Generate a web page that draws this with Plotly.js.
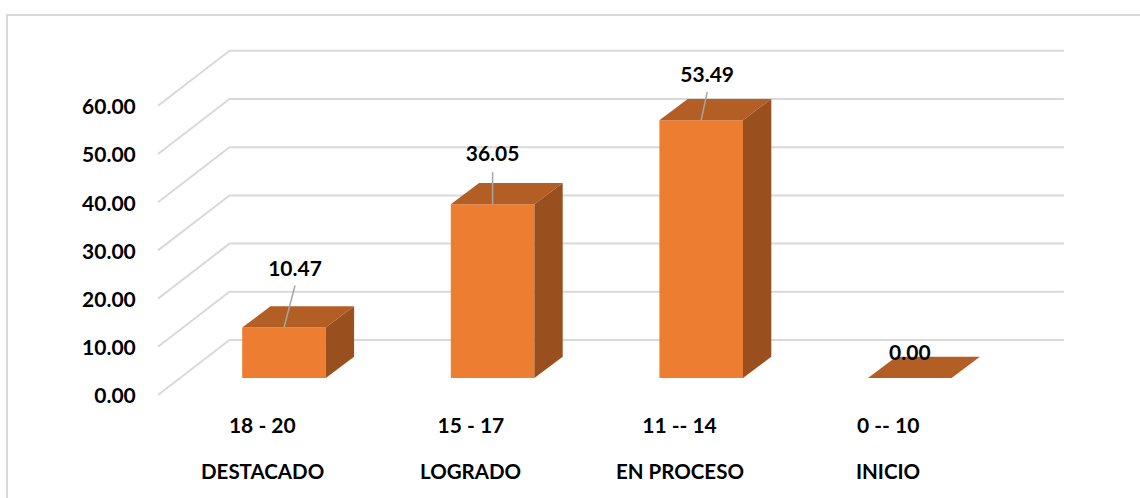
<!DOCTYPE html>
<html>
<head>
<meta charset="utf-8">
<script src="https://cdn.plot.ly/plotly-3.0.1.min.js"></script>
<style>html,body{margin:0;padding:0;background:#fff;overflow:hidden}</style>
</head>
<body>
<div id="chart" style="width:1140px;height:498px"></div>
<script>
// Data
const rangeLabels = ["18 - 20", "15 - 17", "11 -- 14", "0 -- 10"];
const levelLabels = ["DESTACADO", "LOGRADO", "EN PROCESO", "INICIO"];
const values = [10.47, 36.05, 53.49, 0.00];
const yTicks = [0, 10, 20, 30, 40, 50, 60];

// Leader/label placement, relative to each bar's front top edge
const labelShiftPx = [[11, 57], [0, 48], [6, 43], [0, 23]];
const leaderEndPx = [[11, 42], [0, 32], [6, 28], null];

// Scales of the pseudo-3D box
const W = 1140, H = 498;
const plot = {l: 150, r: 1080, t: 40, b: 400};
const pxPerCat = 208.6, pxPerUnit = 4.82, x0Px = 262.3, y0Px = 395;
const xRange = [(plot.l - x0Px) / pxPerCat, (plot.r - x0Px) / pxPerCat];
const yRange = [(y0Px - plot.b) / pxPerUnit, (y0Px - plot.t) / pxPerUnit];
const dx = px => px / pxPerCat, dy = px => px / pxPerUnit;

const wall = {dx: dx(71.5), dy: dy(55)};
const barW = dx(83.6);
const barOff = {dx: dx(21.7), dy: dy(17)};
const barDepth = {dx: dx(28.3), dy: dy(21.3)};

const GRID = "#d9d9d9", FRONT = "#ED7D31", TOP = "#B35E25", SIDE = "#9A501E", LEADER = "#a6a6a6";
const FONT = "Lato, Carlito, sans-serif", FS = 21;

// Gridlines: diagonal on side wall + back wall line
const left = -0.5, right = 3.5;
const shapes = yTicks.map(t => ({
  type: "path", layer: "below", xref: "x", yref: "y",
  path: `M${left},${t} L${left + wall.dx},${t + wall.dy} L${right + wall.dx},${t + wall.dy}`,
  line: {color: GRID, width: 2}
}));
// Outer chart frame (runs off the page on the right and the bottom)
const pw = plot.r - plot.l, ph = plot.b - plot.t;
shapes.push({
  type: "path", layer: "below", xref: "paper", yref: "paper",
  path: `M${(1150 - plot.l) / pw},${(plot.b - 15) / ph} L${(7 - plot.l) / pw},${(plot.b - 15) / ph} L${(7 - plot.l) / pw},${(plot.b - 510) / ph}`,
  line: {color: GRID, width: 2}
});

const traces = [];
// Front faces
traces.push({
  type: "bar", x: values.map((v, i) => i + barOff.dx), y: values,
  base: values.map(() => barOff.dy), width: barW,
  marker: {color: FRONT, line: {width: 0}}, hoverinfo: "skip", showlegend: false
});
// Top and side faces
values.forEach((v, i) => {
  const xl = i + barOff.dx - barW / 2, xr = xl + barW;
  const yb = barOff.dy, yt = yb + v;
  traces.push({
    type: "scatter", mode: "lines", fill: "toself", fillcolor: TOP, line: {width: 0, color: TOP},
    x: [xl, xr, xr + barDepth.dx, xl + barDepth.dx, xl],
    y: [yt, yt, yt + barDepth.dy, yt + barDepth.dy, yt],
    hoverinfo: "skip", showlegend: false
  });
  if (v > 0) traces.push({
    type: "scatter", mode: "lines", fill: "toself", fillcolor: SIDE, line: {width: 0, color: SIDE},
    x: [xr, xr + barDepth.dx, xr + barDepth.dx, xr, xr],
    y: [yb, yb + barDepth.dy, yt + barDepth.dy, yt, yb],
    hoverinfo: "skip", showlegend: false
  });
  const end = leaderEndPx[i];
  if (end) traces.push({
    type: "scatter", mode: "lines", line: {color: LEADER, width: 1.5},
    x: [i + barOff.dx, i + barOff.dx + dx(end[0])],
    y: [yt, yt + dy(end[1])],
    hoverinfo: "skip", showlegend: false
  });
});
// Value labels
traces.push({
  type: "scatter", mode: "text",
  x: values.map((v, i) => i + barOff.dx + dx(labelShiftPx[i][0])),
  y: values.map((v, i) => barOff.dy + v + dy(labelShiftPx[i][1])),
  text: values.map(v => v.toFixed(2)), textposition: "middle center",
  textfont: {family: FONT, size: FS, color: "#000", weight: 700},
  hoverinfo: "skip", showlegend: false, cliponaxis: false
});

const layout = {
  width: W, height: H, paper_bgcolor: "#fff", plot_bgcolor: "rgba(0,0,0,0)",
  margin: {l: plot.l, r: W - plot.r, t: plot.t, b: H - plot.b, pad: 0},
  showlegend: false, barmode: "overlay", shapes,
  xaxis: {
    range: xRange, showgrid: false, zeroline: false, showline: false,
    tickmode: "array", tickvals: rangeLabels.map((_, i) => i), ticktext: rangeLabels,
    ticks: "outside", ticklen: 7, tickcolor: "rgba(0,0,0,0)", tickangle: 0,
    tickfont: {family: FONT, size: FS, color: "#000", weight: 700}
  },
  yaxis: {
    range: yRange, showgrid: false, zeroline: false, showline: false,
    tickmode: "array", tickvals: yTicks, ticktext: yTicks.map(t => t.toFixed(2)),
    ticks: "outside", ticklen: 9, tickcolor: "rgba(0,0,0,0)", ticklabelshift: 1,
    tickfont: {family: FONT, size: FS, color: "#000", weight: 700}
  },
  annotations: levelLabels.map((t, i) => ({
    text: t, xref: "x", yref: "paper", x: i, y: (plot.b - 470.5) / ph,
    xanchor: "center", yanchor: "middle", showarrow: false,
    font: {family: FONT, size: 20.5, color: "#000", weight: 700}
  }))
};
Plotly.newPlot("chart", traces, layout, {displayModeBar: false, staticPlot: true});
</script>
</body>
</html>
